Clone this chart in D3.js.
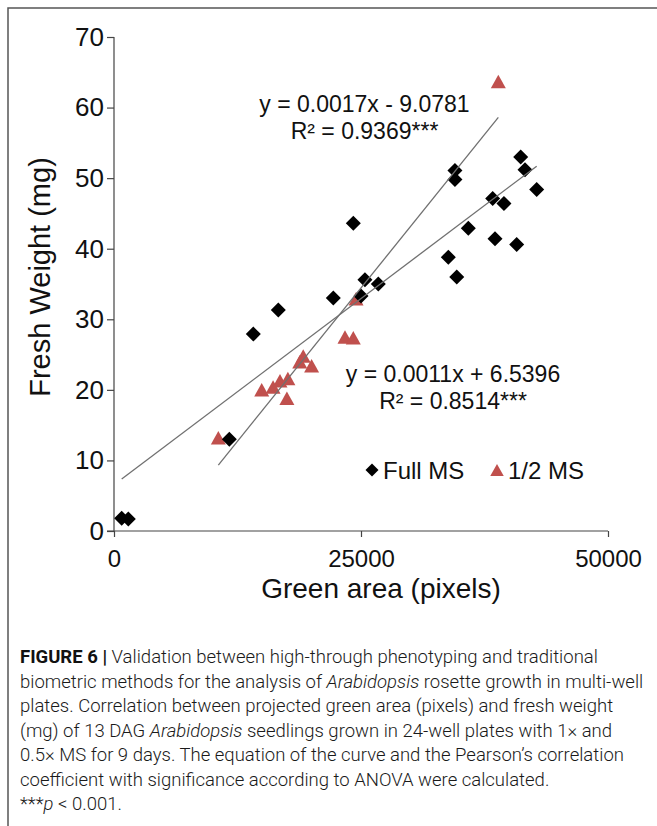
<!DOCTYPE html>
<html>
<head>
<meta charset="utf-8">
<script src="https://cdn.jsdelivr.net/npm/d3@7"></script>
<style>
  html, body { margin: 0; padding: 0; background: #fff; }
  svg { display: block; }
</style>
</head>
<body>
<svg id="chart" width="657" height="826"></svg>
<script>
// Full MS seedlings: [green area (pixels), fresh weight (mg)]
const fullMS = [
  [779, 1.8], [1450, 1.7], [11670, 13.0], [14100, 27.9], [16630, 31.3],
  [22200, 33.0], [24220, 43.6], [25000, 33.3], [25400, 35.6], [26750, 35.0],
  [33840, 38.8], [34690, 36.0], [34510, 51.1], [34510, 49.8], [35860, 42.9],
  [38330, 47.1], [38560, 41.4], [39470, 46.4], [40760, 40.6], [41160, 53.0],
  [41600, 51.2], [42780, 48.4]
];
// 1/2 MS seedlings
const halfMS = [
  [10560, 13.2], [14950, 20.0], [16100, 20.4], [16800, 21.3], [17600, 21.6],
  [17500, 18.8], [18800, 24.0], [19150, 24.8], [20000, 23.4], [23380, 27.5],
  [24220, 27.4], [24500, 32.9], [38900, 63.7]
];

const xTicks = [0, 25000, 50000];
const yTicks = [0, 10, 20, 30, 40, 50, 60, 70];
const seriesNames = ["Full MS", "1/2 MS"];
const halfEquation = ["y = 0.0017x - 9.0781", "R² = 0.9369***"];
const fullEquation = ["y = 0.0011x + 6.5396", "R² = 0.8514***"];

const svg = d3.select("#chart");
const chartFont = "'Liberation Sans', Arial, sans-serif";
const red = "#c0504d";

// page frame
svg.append("path")
  .attr("d", "M8,826V8H657")
  .attr("fill", "none")
  .attr("stroke", "#555")
  .attr("stroke-width", 1.5);

const x = d3.scaleLinear().domain([0, 50000]).range([114, 608]);
const y = d3.scaleLinear().domain([0, 70]).range([531, 37]);

// axes
const axisColor = "#444";
const yAxis = svg.append("g")
  .attr("transform", `translate(${x(0)},0)`)
  .call(d3.axisLeft(y).tickValues(yTicks).tickSize(7).tickPadding(3).tickSizeOuter(0));
const xAxis = svg.append("g")
  .attr("transform", `translate(0,${y(0)})`)
  .call(d3.axisBottom(x).tickValues(xTicks).tickFormat(d3.format("d")).tickSize(6).tickPadding(13).tickSizeOuter(0));
[xAxis, yAxis].forEach(g => {
  g.select(".domain").remove();
  g.selectAll(".tick line").attr("stroke", axisColor).attr("stroke-width", 1.2);
  g.selectAll(".tick text")
    .attr("font-family", chartFont)
    .attr("fill", "#111");
});
xAxis.selectAll(".tick text").attr("font-size", 24);
yAxis.selectAll(".tick text").attr("font-size", 26);
svg.append("line")
  .attr("x1", x(0)).attr("x2", x(0))
  .attr("y1", y(0)).attr("y2", y(70))
  .attr("stroke", axisColor).attr("stroke-width", 1.2);
svg.append("line")
  .attr("x1", x(0) - 7).attr("x2", x(50000))
  .attr("y1", y(0)).attr("y2", y(0))
  .attr("stroke", axisColor).attr("stroke-width", 1.2);

// axis titles
svg.append("text")
  .attr("x", 381).attr("y", 598)
  .attr("text-anchor", "middle")
  .attr("font-family", chartFont).attr("font-size", 28).attr("fill", "#111")
  .text("Green area (pixels)");
svg.append("text")
  .attr("transform", "translate(50,277) rotate(-90)")
  .attr("text-anchor", "middle")
  .attr("font-family", chartFont).attr("font-size", 29).attr("fill", "#111")
  .text("Fresh Weight (mg)");

// marker shapes
const diamondPath = r => `M0,${-r}L${r},0L0,${r}L${-r},0Z`;
const trianglePath = (w, h) => `M0,${-h / 2}L${w / 2},${h / 2}L${-w / 2},${h / 2}Z`;

// 1/2 MS triangles
svg.append("g").selectAll("path")
  .data(halfMS).join("path")
  .attr("transform", d => `translate(${x(d[0])},${y(d[1])})`)
  .attr("d", trianglePath(15, 13.5))
  .attr("fill", red);

// Full MS diamonds
svg.append("g").selectAll("path")
  .data(fullMS).join("path")
  .attr("transform", d => `translate(${x(d[0])},${y(d[1])})`)
  .attr("d", diamondPath(7.5))
  .attr("fill", "#000");

// least-squares trend lines over each series' x range
function linearFit(points) {
  const mx = d3.mean(points, p => p[0]);
  const my = d3.mean(points, p => p[1]);
  const sxy = d3.sum(points, p => (p[0] - mx) * (p[1] - my));
  const sxx = d3.sum(points, p => (p[0] - mx) ** 2);
  const slope = sxy / sxx;
  const intercept = my - slope * mx;
  const [x0, x1] = d3.extent(points, p => p[0]);
  return [[x0, intercept + slope * x0], [x1, intercept + slope * x1]];
}
const line = d3.line().x(d => x(d[0])).y(d => y(d[1]));
[fullMS, halfMS].forEach(series => {
  svg.append("path")
    .attr("d", line(linearFit(series)))
    .attr("fill", "none")
    .attr("stroke", "#707070")
    .attr("stroke-width", 1.3);
});

// regression equations
function equation(lines, cx, baseline) {
  svg.append("g").selectAll("text")
    .data(lines).join("text")
    .attr("x", cx)
    .attr("y", (d, i) => baseline + i * 27.5)
    .attr("text-anchor", "middle")
    .attr("font-family", chartFont).attr("font-size", 23).attr("fill", "#111")
    .text(d => d);
}
equation(halfEquation, 364.5, 111.5);
equation(fullEquation, 453, 381.5);

// legend
const legend = svg.append("g").attr("font-family", chartFont).attr("font-size", 24).attr("fill", "#111");
legend.append("path").attr("transform", "translate(372,470)").attr("d", diamondPath(6.5)).attr("fill", "#000");
legend.append("text").attr("x", 383).attr("y", 478.5).text(seriesNames[0]);
legend.append("path").attr("transform", "translate(497,470)").attr("d", trianglePath(13.5, 12)).attr("fill", red);
legend.append("text").attr("x", 508).attr("y", 478.5).text(seriesNames[1]);

// figure caption
const captionLines = [
  [["FIGURE 6 |", "b"], [" Validation between high-through phenotyping and traditional", ""]],
  [["biometric methods for the analysis of ", ""], ["Arabidopsis", "i"], [" rosette growth in multi-well", ""]],
  [["plates. Correlation between projected green area (pixels) and fresh weight", ""]],
  [["(mg) of 13 DAG ", ""], ["Arabidopsis", "i"], [" seedlings grown in 24-well plates with 1× and", ""]],
  [["0.5× MS for 9 days. The equation of the curve and the Pearson’s correlation", ""]],
  [["coefficient with significance according to ANOVA were calculated.", ""]],
  [["***", ""], ["p", "i"], [" < 0.001.", ""]]
];
const caption = svg.append("g")
  .attr("font-family", "Roboto, 'Liberation Sans', sans-serif")
  .attr("font-size", 18.5)
  .attr("font-weight", 300)
  .attr("fill", "#1a1a1a");
captionLines.forEach((runs, i) => {
  const t = caption.append("text").attr("x", 20).attr("y", 663 + i * 24.5);
  runs.forEach(([s, style]) => {
    const span = t.append("tspan").text(s);
    if (style === "b") span.attr("font-weight", 700).attr("fill", "#111");
    if (style === "i") span.attr("font-style", "italic");
  });
});
</script>
</body>
</html>
